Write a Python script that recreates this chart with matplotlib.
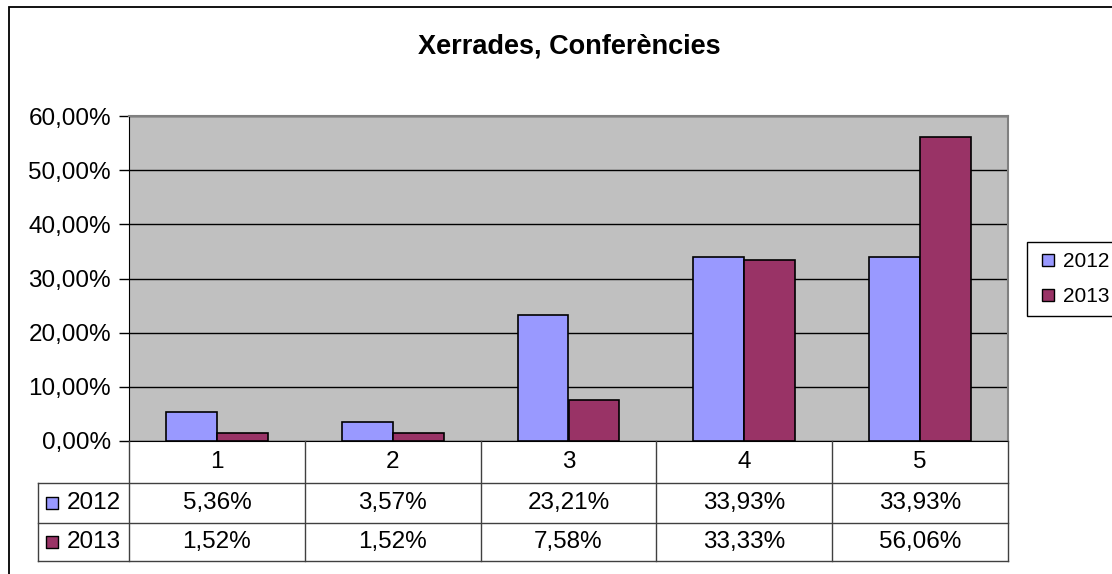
import numpy as np
import matplotlib
matplotlib.use("Agg")
import matplotlib.pyplot as plt
from matplotlib.patches import Rectangle
from matplotlib.lines import Line2D
from matplotlib.ticker import FuncFormatter

plt.rcParams['font.family'] = ['Liberation Sans', 'DejaVu Sans']

title = 'Xerrades, Conferències'
categories = ['1', '2', '3', '4', '5']
series = ['2012', '2013']
vals_2012 = [5.36, 3.57, 23.21, 33.93, 33.93]
vals_2013 = [1.52, 1.52, 7.58, 33.33, 56.06]
colors = ['#9999FF', '#993366']
y_ticks = [0, 10, 20, 30, 40, 50, 60]

W, H = 1112, 574
fs = 17.5
fig = plt.figure(figsize=(W / 100, H / 100), dpi=100)


def px(x0, y0, x1, y1):
    # pixel box (top-left origin) -> figure fraction rect
    return [x0 / W, 1 - y1 / H, (x1 - x0) / W, (y1 - y0) / H]


def pct(v):
    return f'{v:.2f}%'.replace('.', ',')


# outer chart frame (runs off the right and bottom edges)
fig.patches.append(Rectangle((9 / W, -0.1), 1.2, 1 - 7 / H + 0.1,
                             transform=fig.transFigure, fill=False,
                             ec='black', lw=1.3))

fig.text(569 / W, 1 - 46 / H, title, ha='center', va='center',
         fontsize=19.5, fontweight='bold')

# plot area
ax = fig.add_axes(px(129, 116, 1008, 441))
x = np.arange(len(categories))
bw = 0.29
ax.bar(x - bw / 2, vals_2012, bw, color=colors[0], edgecolor='black',
       lw=1.2, label=series[0], zorder=3)
ax.bar(x + bw / 2, vals_2013, bw, color=colors[1], edgecolor='black',
       lw=1.2, label=series[1], zorder=3)
ax.set_xlim(-0.5, 4.5)
ax.set_ylim(0, 60)
ax.set_facecolor('#C0C0C0')
ax.set_yticks(y_ticks)
ax.yaxis.set_major_formatter(FuncFormatter(lambda v, p: pct(v)))
ax.grid(axis='y', color='black', lw=1)
ax.set_axisbelow(True)
ax.set_xticks([])
ax.tick_params(axis='y', direction='out', length=7, width=1, pad=6,
               labelsize=fs)
for s in ['top', 'right']:
    ax.spines[s].set_color('#808080')
    ax.spines[s].set_linewidth(1.5)
ax.spines['left'].set_color('black')
ax.spines['bottom'].set_color('black')

handles = [Line2D([], [], marker='s', ls='none', markersize=9,
                  markerfacecolor=c, markeredgecolor='black', mew=1)
           for c in colors]
leg = ax.legend(handles, series, loc='upper left',
                bbox_to_anchor=(1027 / W, 1 - 242 / H),
                bbox_transform=fig.transFigure, fancybox=False,
                edgecolor='black', fontsize=15, handlelength=1.0,
                handletextpad=0.23, borderpad=0.5, labelspacing=0.75,
                borderaxespad=0, framealpha=1)
leg.get_frame().set_linewidth(1)

# data table under the plot
cell_px = (1008 - 129) / 5
left = -0.5 - (129 - 38) / cell_px
tax = fig.add_axes(px(38, 441, 1008, 561))
tax.set_xlim(left, 4.5)
tax.set_ylim(0, 120)
tax.axis('off')

lc = '#404040'
kw = dict(color=lc, lw=1, clip_on=False)
for xb in np.arange(len(categories) + 1) - 0.5:
    tax.plot([xb, xb], [0, 120], **kw)
tax.plot([left, left], [0, 78], **kw)
for yb in [0, 38, 78]:
    tax.plot([left, 4.5], [yb, yb], **kw)

row_y = [58, 19]
for i, c in enumerate(categories):
    tax.text(i, 99, c, ha='center', va='center', fontsize=fs)
for vals, ry in zip([vals_2012, vals_2013], row_y):
    for i, v in enumerate(vals):
        tax.text(i, ry, pct(v), ha='center', va='center', fontsize=fs)
for name, col, ry in zip(series, colors, row_y):
    tax.scatter([left + 13.5 / cell_px], [ry], marker='s', s=72, color=col,
                edgecolor='black', lw=1, clip_on=False)
    tax.text(left + 29 / cell_px, ry, name, ha='left', va='center',
             fontsize=fs)

fig.savefig('out.png', dpi=100)
